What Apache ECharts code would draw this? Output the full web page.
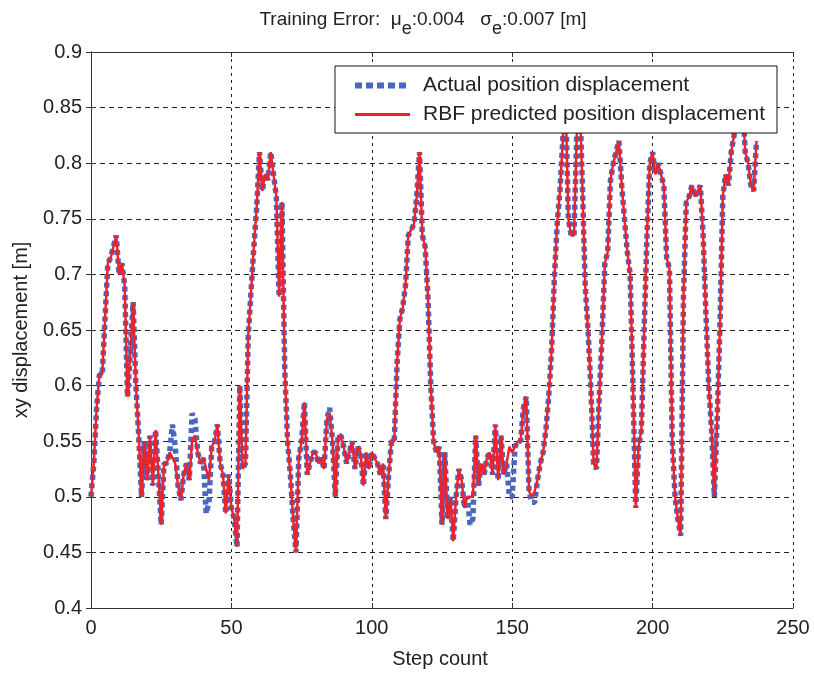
<!DOCTYPE html>
<html>
<head>
<meta charset="utf-8">
<script src="https://cdn.jsdelivr.net/npm/echarts@6/dist/echarts.min.js"></script>
<style>html,body{margin:0;padding:0;background:#fff}#c{width:814px;height:674px}</style>
</head>
<body>
<div id="c"></div>
<script>
// Predicted (RBF) displacement per step, index = step count
const predicted = [
0.50,0.53,0.58,0.61,0.61,0.66,0.71,0.715,0.725,0.735,
0.70,0.71,0.69,0.59,0.63,0.675,0.60,0.555,0.50,0.55,
0.515,0.555,0.51,0.56,0.52,0.475,0.53,0.53,0.54,0.535,
0.53,0.51,0.497,0.52,0.53,0.515,0.55,0.555,0.54,0.53,
0.535,0.525,0.515,0.545,0.55,0.565,0.53,0.52,0.485,0.52,
0.49,0.48,0.455,0.60,0.525,0.53,0.645,0.685,0.725,0.76,
0.81,0.775,0.79,0.785,0.81,0.79,0.77,0.68,0.765,0.615,
0.55,0.52,0.48,0.45,0.535,0.55,0.585,0.52,0.53,0.54,
0.54,0.53,0.535,0.525,0.57,0.575,0.55,0.50,0.555,0.555,
0.545,0.53,0.54,0.55,0.525,0.545,0.54,0.51,0.54,0.525,
0.54,0.535,0.53,0.52,0.53,0.48,0.52,0.55,0.55,0.62,
0.66,0.67,0.69,0.735,0.74,0.745,0.77,0.81,0.735,0.725,
0.68,0.60,0.55,0.54,0.545,0.475,0.54,0.48,0.50,0.46,
0.50,0.525,0.515,0.49,0.50,0.50,0.50,0.555,0.51,0.53,
0.52,0.535,0.54,0.52,0.565,0.515,0.555,0.52,0.53,0.545,
0.54,0.545,0.55,0.55,0.58,0.59,0.505,0.50,0.505,0.515,
0.53,0.54,0.56,0.59,0.63,0.695,0.745,0.775,0.82,0.86,
0.75,0.735,0.735,0.825,0.86,0.78,0.69,0.65,0.60,0.53,
0.525,0.59,0.645,0.71,0.72,0.785,0.80,0.81,0.82,0.78,
0.75,0.72,0.70,0.60,0.49,0.545,0.56,0.65,0.735,0.80,
0.81,0.79,0.80,0.79,0.78,0.715,0.705,0.55,0.50,0.48,
0.465,0.68,0.765,0.77,0.78,0.77,0.775,0.78,0.735,0.665,
0.60,0.56,0.50,0.57,0.655,0.77,0.79,0.78,0.81,0.825,
0.85,0.83,0.855,0.81,0.80,0.78,0.775,0.82
];
// Actual displacement per step, index = step count
const actual = [
0.50,0.53,0.58,0.61,0.61,0.66,0.71,0.715,0.725,0.735,
0.70,0.71,0.69,0.59,0.63,0.675,0.60,0.555,0.50,0.55,
0.515,0.555,0.51,0.56,0.52,0.475,0.53,0.53,0.54,0.565,
0.545,0.51,0.497,0.52,0.53,0.515,0.575,0.57,0.54,0.53,
0.535,0.485,0.495,0.545,0.55,0.565,0.53,0.52,0.485,0.52,
0.49,0.48,0.455,0.60,0.525,0.53,0.645,0.685,0.725,0.76,
0.81,0.775,0.79,0.785,0.81,0.79,0.77,0.68,0.765,0.615,
0.55,0.52,0.48,0.45,0.535,0.55,0.585,0.52,0.53,0.54,
0.54,0.53,0.535,0.525,0.57,0.58,0.55,0.50,0.555,0.555,
0.545,0.53,0.54,0.55,0.525,0.545,0.54,0.51,0.54,0.525,
0.54,0.535,0.53,0.52,0.53,0.48,0.52,0.55,0.55,0.62,
0.66,0.67,0.69,0.735,0.74,0.745,0.77,0.81,0.735,0.725,
0.68,0.60,0.55,0.54,0.545,0.475,0.54,0.48,0.50,0.46,
0.50,0.525,0.515,0.49,0.50,0.475,0.48,0.555,0.51,0.53,
0.52,0.535,0.54,0.52,0.565,0.515,0.555,0.52,0.53,0.50,
0.50,0.545,0.55,0.55,0.58,0.59,0.505,0.495,0.495,0.515,
0.53,0.54,0.56,0.59,0.63,0.695,0.745,0.775,0.82,0.86,
0.75,0.735,0.735,0.825,0.86,0.78,0.69,0.65,0.60,0.53,
0.525,0.59,0.645,0.71,0.72,0.785,0.80,0.81,0.82,0.78,
0.75,0.72,0.70,0.60,0.49,0.545,0.56,0.65,0.735,0.80,
0.81,0.79,0.80,0.79,0.78,0.715,0.705,0.55,0.50,0.48,
0.465,0.68,0.765,0.77,0.78,0.77,0.775,0.78,0.735,0.665,
0.60,0.56,0.50,0.57,0.655,0.77,0.79,0.78,0.81,0.825,
0.85,0.83,0.855,0.81,0.80,0.78,0.775,0.82
];
const xTicks = [0, 50, 100, 150, 200, 250];
const yTicks = [0.4, 0.45, 0.5, 0.55, 0.6, 0.65, 0.7, 0.75, 0.8, 0.85, 0.9];
const seriesNames = ['Actual position displacement', 'RBF predicted position displacement'];

const FONT = '"Liberation Sans", Arial, sans-serif';
const FS = 20;
const chart = echarts.init(document.getElementById('c'), null, {renderer: 'canvas'});
const toPairs = arr => arr.map((v, i) => [i, v]);
const hiddenAxis = {
  axisLine: {show: true, lineStyle: {color: '#333', width: 1}},
  axisTick: {show: true, inside: true, length: 5, lineStyle: {color: '#333'}},
  axisLabel: {show: false},
  splitLine: {show: false}
};
chart.setOption({
  animation: false,
  backgroundColor: '#fff',
  title: {
    left: 418, top: 4, textAlign: 'center',
    text: '{a|Training Error:  μ}{s|e}{a|:0.004   σ}{s|e}{a|:0.007 [m]}',
    textStyle: {
      fontWeight: 'normal',
      rich: {
        a: {fontSize: 19, color: '#222', fontFamily: FONT, fontWeight: 'normal', padding: [0,0,7,0]},
        s: {fontSize: 18, color: '#222', fontFamily: FONT, fontWeight: 'normal', padding: [11,0,0,0]}
      }
    }
  },
  grid: {left: 91, right: 21, top: 52, bottom: 65, containLabel: false},
  legend: {
    orient: 'vertical', right: 37, top: 66,
    data: [
      {name: seriesNames[0], itemStyle: {opacity: 0}, lineStyle: {width: 6, type: [7, 4], color: '#4a67c0', cap: 'butt'}},
      {name: seriesNames[1], itemStyle: {opacity: 0}, lineStyle: {width: 3, color: '#ee2228'}}
    ],
    itemWidth: 55, itemHeight: 20, itemGap: 8,
    padding: [9, 12, 8, 17],
    borderColor: '#111', borderWidth: 1, backgroundColor: '#fff',
    textStyle: {fontSize: 21, color: '#222', fontFamily: FONT, padding: [0, 0, 0, 8]},
    z: 10
  },
  xAxis: [{
    type: 'value', min: 0, max: 250, interval: 50,
    name: 'Step count', nameLocation: 'middle', nameGap: 41,
    nameTextStyle: {fontSize: FS, color: '#222', fontFamily: FONT, padding: [0,0,0,-4]},
    axisLine: {show: true, onZero: false, lineStyle: {color: '#333', width: 1}},
    axisTick: {show: true, inside: true, length: 5, lineStyle: {color: '#333'}},
    axisLabel: {fontSize: FS, color: '#222', fontFamily: FONT, margin: 10,
      formatter: v => xTicks.includes(v) ? String(v) : ''},
    splitLine: {show: true, lineStyle: {color: '#222', type: [3, 4], width: 1}}
  }, Object.assign({type: 'value', position: 'top', min: 0, max: 250, interval: 50}, hiddenAxis)],
  yAxis: [{
    type: 'value', min: 0.4, max: 0.9, interval: 0.05,
    name: 'xy displacement [m]', nameLocation: 'middle', nameGap: 60,
    nameTextStyle: {fontSize: FS, color: '#222', fontFamily: FONT},
    axisLine: {show: true, onZero: false, lineStyle: {color: '#333', width: 1}},
    axisTick: {show: true, inside: true, length: 5, lineStyle: {color: '#333'}},
    axisLabel: {fontSize: FS, color: '#222', fontFamily: FONT, margin: 9,
      formatter: v => { const t = yTicks.find(x => Math.abs(x - v) < 1e-6); return t === undefined ? '' : String(t); }},
    splitLine: {show: true, lineStyle: {color: '#222', type: [5, 4], width: 1}}
  }, Object.assign({type: 'value', position: 'right', min: 0.4, max: 0.9, interval: 0.05}, hiddenAxis)],
  series: [{
    name: seriesNames[0], type: 'line', data: toPairs(actual),
    showSymbol: false, symbol: 'none', clip: true, z: 2,
    itemStyle: {color: '#4a67c0'},
    lineStyle: {color: '#4a67c0', width: 5.5, type: [5, 3.5], cap: 'butt'}
  }, {
    name: seriesNames[1], type: 'line', data: toPairs(predicted),
    showSymbol: false, symbol: 'none', clip: true, z: 3,
    itemStyle: {color: '#ee2228'},
    lineStyle: {color: '#ee2228', width: 2.5}
  }]
});
</script>
</body>
</html>
